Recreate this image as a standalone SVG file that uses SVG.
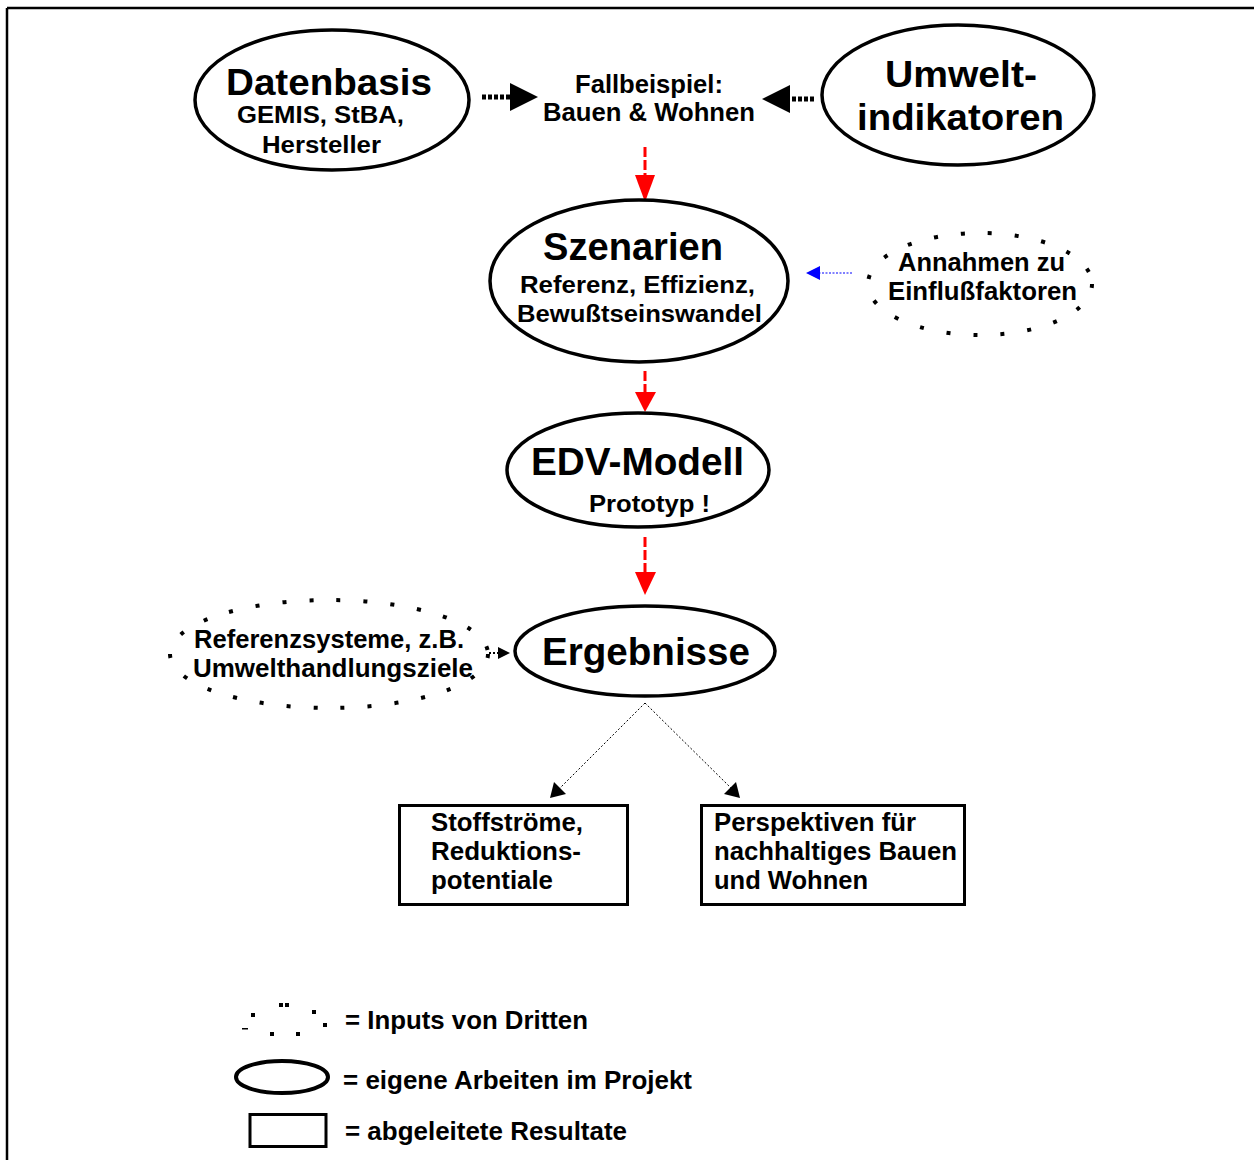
<svg xmlns="http://www.w3.org/2000/svg" width="1254" height="1160" viewBox="0 0 1254 1160">
  <style>
    text { font-family: "Liberation Sans", Arial, Helvetica, sans-serif; font-weight: bold; fill: #000; }
    .own { fill: #fff; stroke: #000; stroke-width: 3.5; }
    .ext { fill: none; stroke: #000; stroke-width: 4; stroke-dasharray: 4 23; }
    .box { fill: #fff; stroke: #000; stroke-width: 3; }
    .red { stroke: #ff0000; stroke-width: 3; stroke-dasharray: 10 3; fill: none; }
    .thin { stroke: #000; stroke-width: 1; stroke-dasharray: 2 2; fill: none; }
    .blk { stroke: #000; stroke-width: 5; stroke-dasharray: 4 2; fill: none; }
    .big { font-size: 37px; }
    .mid { font-size: 25px; }
    .sub { font-size: 23px; }
  </style>

  <rect width="1254" height="1160" fill="#fff"/>

  <!-- frame -->
  <g id="frame" stroke="#000" stroke-width="2.5" fill="none">
    <line x1="7" y1="8" x2="1254" y2="8"/>
    <line x1="7" y1="8" x2="7" y2="1160"/>
  </g>

  <!-- connectors -->
  <g id="connectors">
    <!-- inputs to the case study -->
    <line class="blk" x1="482" y1="97" x2="510" y2="97"/>
    <polygon points="510,83 538,97 510,111" fill="#000"/>
    <line class="blk" x1="814" y1="99" x2="790" y2="99"/>
    <polygon points="790,85 762,99 790,113" fill="#000"/>

    <!-- main red chain -->
    <line class="red" x1="645" y1="147" x2="645" y2="176"/>
    <polygon points="635,175 655,175 645,202" fill="#ff0000"/>
    <line class="red" x1="645" y1="371" x2="645" y2="394"/>
    <polygon points="635,392 656,392 645,412" fill="#ff0000"/>
    <line class="red" x1="645" y1="537" x2="645" y2="574"/>
    <polygon points="635,572 656,572 645,595" fill="#ff0000"/>

    <!-- assumptions to scenarios -->
    <line x1="852" y1="273" x2="818" y2="273" stroke="#0000ff" stroke-width="1" stroke-dasharray="2 1.5"/>
    <polygon points="820,266 806,273 820,280" fill="#0000ff"/>

    <!-- reference systems to results -->
    <line x1="489" y1="653" x2="500" y2="653" stroke="#000" stroke-width="2" stroke-dasharray="2 2"/>
    <polygon points="498,647 510,653 498,659" fill="#000"/>

    <!-- results to derived outputs -->
    <line class="thin" x1="645" y1="703" x2="558" y2="790"/>
    <polygon points="550,798 554,782 566,794" fill="#000"/>
    <line class="thin" x1="645" y1="703" x2="733" y2="790"/>
    <polygon points="740,798 724,794 736,782" fill="#000"/>
  </g>

  <!-- nodes -->
  <g id="datenbasis">
    <ellipse class="own" cx="332" cy="100" rx="137" ry="70"/>
    <text class="big" x="226" y="95" textLength="206" lengthAdjust="spacingAndGlyphs" style="font-size:36px">Datenbasis</text>
    <text class="sub" x="237" y="123" textLength="167" lengthAdjust="spacingAndGlyphs">GEMIS, StBA,</text>
    <text class="sub" x="262" y="153" textLength="119" lengthAdjust="spacingAndGlyphs">Hersteller</text>
  </g>

  <g id="fallbeispiel">
    <text class="mid" x="575" y="93" textLength="148" lengthAdjust="spacingAndGlyphs">Fallbeispiel:</text>
    <text class="mid" x="543" y="121" textLength="212" lengthAdjust="spacingAndGlyphs">Bauen &amp; Wohnen</text>
  </g>

  <g id="umweltindikatoren">
    <ellipse class="own" cx="958" cy="95" rx="136" ry="70"/>
    <text class="big" x="885" y="87" textLength="152" lengthAdjust="spacingAndGlyphs">Umwelt-</text>
    <text class="big" x="857" y="130" textLength="207" lengthAdjust="spacingAndGlyphs">indikatoren</text>
  </g>

  <g id="szenarien">
    <ellipse class="own" cx="639" cy="281" rx="149" ry="81"/>
    <text class="big" x="543" y="260" textLength="180" lengthAdjust="spacingAndGlyphs" style="font-size:38px">Szenarien</text>
    <text class="sub" x="520" y="293" textLength="235" lengthAdjust="spacingAndGlyphs">Referenz, Effizienz,</text>
    <text class="sub" x="517" y="322" textLength="245" lengthAdjust="spacingAndGlyphs">Bewußtseinswandel</text>
  </g>

  <g id="annahmen">
    <ellipse class="ext" cx="980" cy="284" rx="112" ry="51"/>
    <text class="mid" x="898" y="271" textLength="167" lengthAdjust="spacingAndGlyphs">Annahmen zu</text>
    <text class="mid" x="888" y="300" textLength="189" lengthAdjust="spacingAndGlyphs">Einflußfaktoren</text>
  </g>

  <g id="edv-modell">
    <ellipse class="own" cx="638" cy="470" rx="131" ry="57"/>
    <text class="big" x="531" y="475" textLength="213" lengthAdjust="spacingAndGlyphs" style="font-size:39px">EDV-Modell</text>
    <text class="sub" x="589" y="512" textLength="121" lengthAdjust="spacingAndGlyphs">Prototyp !</text>
  </g>

  <g id="ergebnisse">
    <ellipse class="own" cx="645" cy="651" rx="130" ry="45"/>
    <text class="big" x="542" y="665" textLength="208" lengthAdjust="spacingAndGlyphs" style="font-size:38px">Ergebnisse</text>
  </g>

  <g id="referenzsysteme">
    <ellipse class="ext" cx="329" cy="654" rx="159" ry="54"/>
    <text class="mid" x="194" y="648" textLength="270" lengthAdjust="spacingAndGlyphs">Referenzsysteme, z.B.</text>
    <text class="mid" x="193" y="677" textLength="280" lengthAdjust="spacingAndGlyphs">Umwelthandlungsziele</text>
  </g>

  <g id="stoffstroeme">
    <rect class="box" x="399.5" y="805.5" width="228" height="99"/>
    <text class="mid" x="431" y="831" textLength="152" lengthAdjust="spacingAndGlyphs">Stoffströme,</text>
    <text class="mid" x="431" y="860" textLength="150" lengthAdjust="spacingAndGlyphs">Reduktions-</text>
    <text class="mid" x="431" y="889" textLength="122" lengthAdjust="spacingAndGlyphs">potentiale</text>
  </g>

  <g id="perspektiven">
    <rect class="box" x="701.5" y="805.5" width="263" height="99"/>
    <text class="mid" x="714" y="831" textLength="202" lengthAdjust="spacingAndGlyphs">Perspektiven für</text>
    <text class="mid" x="714" y="860" textLength="243" lengthAdjust="spacingAndGlyphs">nachhaltiges Bauen</text>
    <text class="mid" x="714" y="889" textLength="154" lengthAdjust="spacingAndGlyphs">und Wohnen</text>
  </g>

  <!-- legend -->
  <g id="legend">
    <g fill="#000">
      <rect x="251" y="1013" width="4" height="4"/>
      <rect x="279" y="1003" width="4" height="4"/>
      <rect x="285" y="1003" width="4" height="4"/>
      <rect x="312" y="1010" width="4" height="4"/>
      <rect x="323" y="1023" width="4" height="4"/>
      <rect x="270" y="1032" width="4" height="4"/>
      <rect x="296" y="1032" width="4" height="4"/>
      <rect x="242" y="1028" width="6" height="1.5"/>
    </g>
    <text class="mid" x="345" y="1029" textLength="243" lengthAdjust="spacingAndGlyphs">= Inputs von Dritten</text>

    <ellipse class="own" cx="282" cy="1077" rx="46" ry="16" style="stroke-width:4"/>
    <text class="mid" x="343" y="1089" textLength="349" lengthAdjust="spacingAndGlyphs">= eigene Arbeiten im Projekt</text>

    <rect class="box" x="250" y="1114.5" width="76" height="32"/>
    <text class="mid" x="345" y="1140" textLength="282" lengthAdjust="spacingAndGlyphs">= abgeleitete Resultate</text>
  </g>
</svg>
